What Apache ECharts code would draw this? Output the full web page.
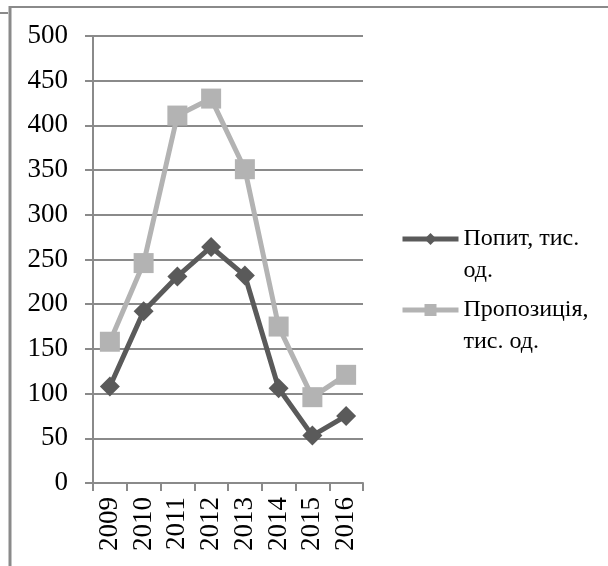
<!DOCTYPE html>
<html>
<head>
<meta charset="utf-8">
<script src="https://cdn.jsdelivr.net/npm/echarts@6/dist/echarts.min.js"></script>
<style>
  html, body { margin: 0; padding: 0; background: #ffffff; }
  #chart { width: 608px; height: 566px; }
</style>
</head>
<body>
<div id="chart"></div>
<script>
// Years on the category axis
const years = ['2009', '2010', '2011', '2012', '2013', '2014', '2015', '2016'];
// Demand, thousand units
const demand = [108, 192, 231, 264, 232, 106, 53, 75];
// Supply, thousand units
const supply = [158, 246, 411, 430, 351, 175, 96, 121];
// Series names as shown in the legend
const demandName = 'Попит, тис. од.';
const supplyName = 'Пропозиція, тис. од.';
const demandLabel = 'Попит, тис.\nод.';
const supplyLabel = 'Пропозиція,\nтис. од.';

const FONT = '"Liberation Serif", "Times New Roman", serif';
const GRID = '#8a8a8a';
const DARK = '#5a5a5a';
const LIGHT = '#b3b3b3';
const LEGEND_LINE = 32;

const chart = echarts.init(document.getElementById('chart'), null, { renderer: 'canvas' });

// One legend block per series; a blank leading line keeps the icon level
// with the first line of the wrapped caption.
function legendFor(name, label, iconY) {
  return {
    data: [name],
    left: 400,
    top: iconY - LEGEND_LINE * 1.5,
    padding: 0,
    itemWidth: 56,
    itemHeight: 15,
    itemGap: 0,
    selectedMode: false,
    formatter: () => '\n' + label,
    lineStyle: { width: 5 },
    textStyle: {
      fontFamily: FONT,
      fontSize: 24,
      color: '#000',
      lineHeight: LEGEND_LINE
    }
  };
}

chart.setOption({
  animation: false,
  backgroundColor: '#ffffff',
  grid: { left: 93, right: 245, top: 36, bottom: 83, containLabel: false },
  legend: [
    legendFor(demandName, demandLabel, 239),
    legendFor(supplyName, supplyLabel, 310)
  ],
  xAxis: {
    type: 'category',
    data: years,
    boundaryGap: true,
    axisLine: { show: true, lineStyle: { color: GRID, width: 2 } },
    axisTick: { show: true, alignWithLabel: false, interval: 0, length: 8, lineStyle: { color: GRID, width: 2 } },
    axisLabel: {
      interval: 0,
      rotate: 90,
      margin: 14,
      fontFamily: FONT,
      fontSize: 27,
      color: '#000'
    },
    splitLine: { show: false }
  },
  yAxis: {
    type: 'value',
    min: 0,
    max: 500,
    interval: 50,
    axisLine: { show: true, lineStyle: { color: GRID, width: 2 } },
    axisTick: { show: true, length: 8, lineStyle: { color: GRID, width: 2 } },
    axisLabel: {
      margin: 25,
      fontFamily: FONT,
      fontSize: 27,
      color: '#000'
    },
    splitLine: { show: true, lineStyle: { color: GRID, width: 2 } }
  },
  series: [
    {
      name: supplyName,
      type: 'line',
      data: supply,
      symbol: 'rect',
      symbolSize: 20,
      color: LIGHT,
      lineStyle: { color: LIGHT, width: 5 },
      itemStyle: { color: LIGHT },
      z: 2
    },
    {
      name: demandName,
      type: 'line',
      data: demand,
      symbol: 'diamond',
      symbolSize: 20,
      color: DARK,
      lineStyle: { color: DARK, width: 5 },
      itemStyle: { color: DARK },
      z: 3
    }
  ],
  graphic: [
    // outer frame edges
    { type: 'line', shape: { x1: 10, y1: 7, x2: 608, y2: 7 }, style: { stroke: GRID, lineWidth: 2 } },
    { type: 'line', shape: { x1: 10, y1: 6, x2: 10, y2: 566 }, style: { stroke: GRID, lineWidth: 3 } },
    { type: 'line', shape: { x1: 0, y1: 13, x2: 8, y2: 13 }, style: { stroke: GRID, lineWidth: 2 } }
  ]
});
</script>
</body>
</html>
